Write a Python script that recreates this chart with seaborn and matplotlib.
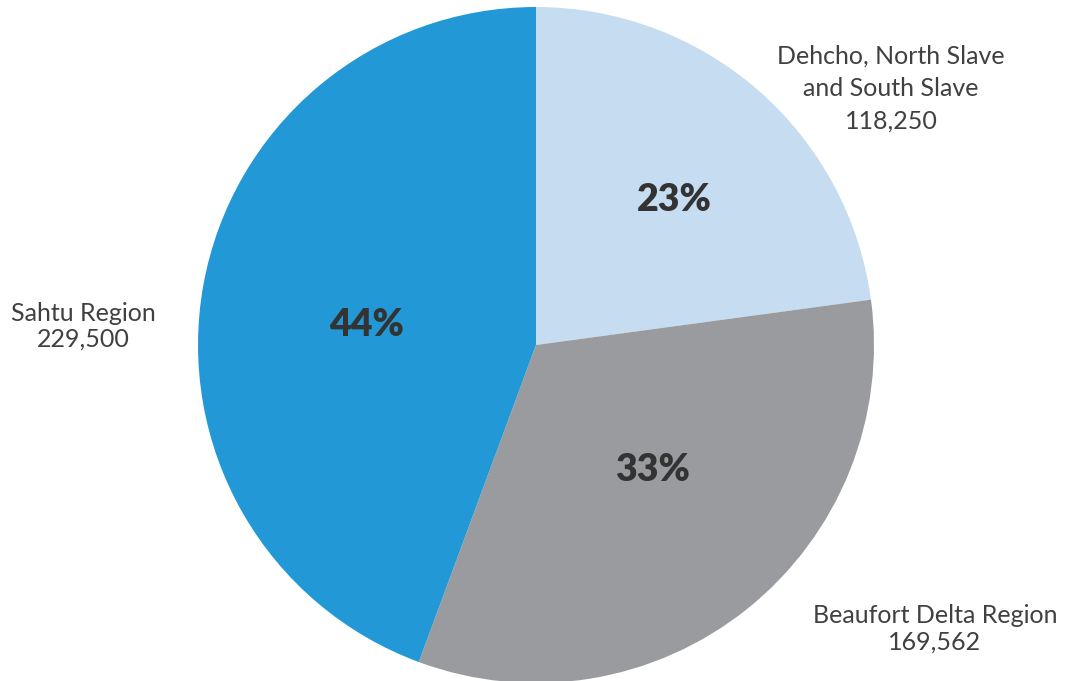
import numpy as np
import seaborn as sns
import matplotlib
matplotlib.use('Agg')
import matplotlib.pyplot as plt

regions = ['Dehcho, North Slave\nand South Slave', 'Beaufort Delta Region', 'Sahtu Region']
values = [118250, 169562, 229500]
colors = ['#C5DCF1', '#9A9B9F', '#2398D6']

sns.set_style('white')
plt.rcParams['font.family'] = ['Lato', 'DejaVu Sans']

fig = plt.figure(figsize=(10.65, 6.81), dpi=100)
ax = fig.add_axes([0, 0, 1, 1])

wedges, texts, autotexts = ax.pie(
    values, colors=colors, startangle=90, counterclock=False,
    autopct=lambda p: '{:.0f}%'.format(p), pctdistance=0.55,
    textprops=dict(color='#333333', fontsize=27, fontweight='heavy'),
    wedgeprops=dict(linewidth=0))

# nudge the percentage labels to where they sit in the original
pct_xy = [(0.41, 0.43), (0.345, -0.37), (-0.50, 0.06)]
for t, xy in zip(autotexts, pct_xy):
    t.set_position(xy)

# outside labels
label_xy = [(1.05, 0.76), (1.18, -0.84), (-1.34, 0.055)]
spacing = [1.5, 1.15, 1.15]
for name, v, (x, y), ls in zip(regions, values, label_xy, spacing):
    ax.text(x, y, '{}\n{:,}'.format(name, v), ha='center', va='center',
            fontsize=18, color='#404040', linespacing=ls)

ax.set_aspect('equal')
ax.set_xlim(-536 / 338, (1065 - 536) / 338)
ax.set_ylim(-336 / 338, (681 - 336) / 338)
ax.axis('off')

plt.savefig('out.png', dpi=100, facecolor='white')
